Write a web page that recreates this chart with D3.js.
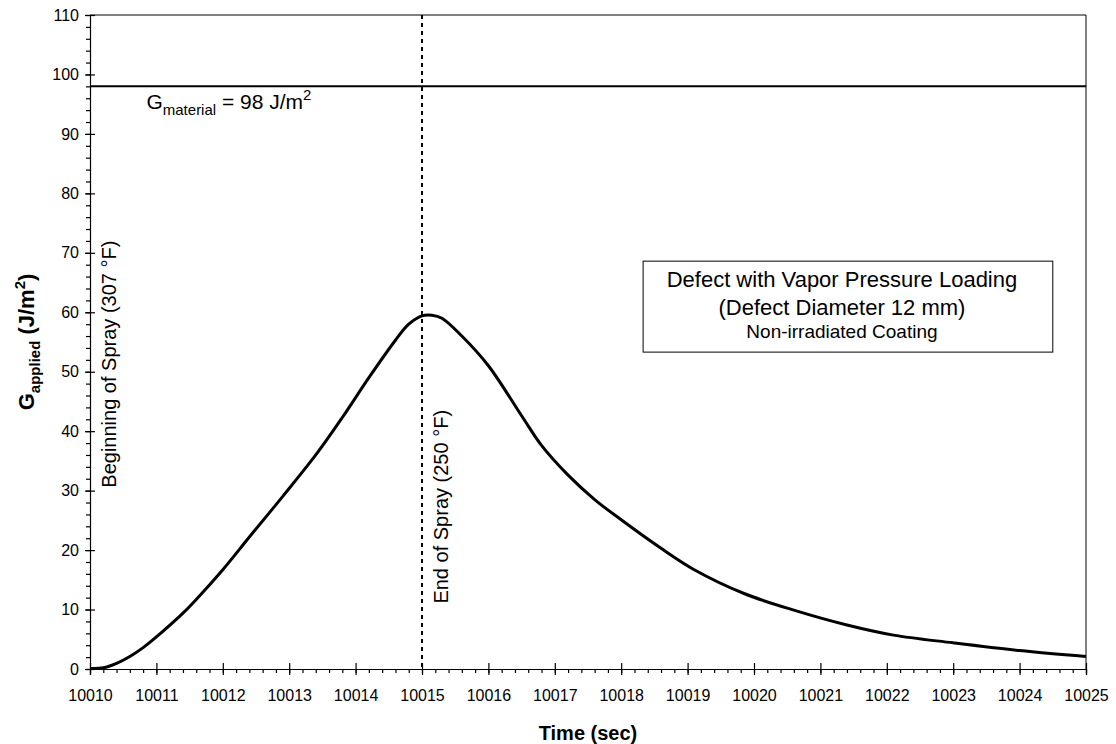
<!DOCTYPE html>
<html>
<head>
<meta charset="utf-8">
<script src="https://cdn.jsdelivr.net/npm/d3@7"></script>
<style>
  body { margin: 0; background: #fff; }
  text { font-family: Arial, "Liberation Sans", Helvetica, sans-serif; fill: #000; }
</style>
</head>
<body>
<script>
// time (sec) and G applied (J/m2)
var times = [10010, 10010.2, 10010.4, 10010.6, 10010.8, 10011, 10011.4, 10011.6, 10012, 10012.4, 10012.9,
             10013.4, 10013.8, 10014.2, 10014.6, 10014.8, 10015, 10015.15, 10015.3, 10015.6, 10016, 10016.5, 10016.8,
             10017.2, 10017.6, 10018, 10018.6, 10019.1, 10019.85, 10020.6, 10021.4, 10022.1, 10023, 10024, 10025];
var gApplied = [0.1, 0.2, 0.95, 2.1, 3.6, 5.4, 9.4, 11.7, 16.7, 22.2, 29.0,
                36.0, 42.3, 49.0, 55.3, 58.0, 59.4, 59.5, 59.0, 56.0, 51.0, 42.6, 37.6,
                32.6, 28.5, 25.1, 20.3, 16.7, 12.7, 9.9, 7.4, 5.7, 4.4, 3.1, 2.1];

var xTicks = d3.range(10010, 10026, 1);
var yTicks = d3.range(0, 111, 10);
var gMaterial = 98;
var sprayStart = 10010, sprayEnd = 10015;
var boxLines = ["Defect with Vapor Pressure Loading", "(Defect Diameter 12 mm)", "Non-irradiated Coating"];

var W = 1116, H = 744,
    margin = {top: 15, right: 30, bottom: 75, left: 90},
    width = W - margin.left - margin.right,
    height = H - margin.top - margin.bottom;

var svg = d3.select("body").append("svg")
    .attr("width", W)
    .attr("height", H);

var g = svg.append("g")
    .attr("transform", "translate(" + margin.left + "," + margin.top + ")");

var x = d3.scaleLinear().domain([10010, 10025]).range([0, width]);
var y = d3.scaleLinear().domain([0, 110]).range([height, 0]);

// frame (top + right)
g.append("path")
    .attr("d", "M0,0H" + width + "V" + height)
    .attr("fill", "none")
    .attr("stroke", "#000")
    .attr("stroke-width", 1);

// minor ticks
g.append("g")
    .attr("transform", "translate(0," + height + ")")
    .call(d3.axisBottom(x).tickValues(d3.range(0, 76).map(function(i){ return 10010 + i * 0.2; }))
      .tickSize(4).tickFormat(""))
    .call(function(s){ s.select(".domain").remove(); });
g.append("g")
    .call(d3.axisLeft(y).tickValues(d3.range(0, 56).map(function(i){ return i * 2; }))
      .tickSize(4).tickFormat(""))
    .call(function(s){ s.select(".domain").remove(); });

// major axes
var xAxis = g.append("g")
    .attr("transform", "translate(0," + height + ")")
    .call(d3.axisBottom(x).tickValues(xTicks).tickSize(6).tickPadding(15).tickFormat(d3.format("d")));
xAxis.selectAll(".tick line").attr("y1", -6);

var yAxis = g.append("g")
    .call(d3.axisLeft(y).tickValues(yTicks).tickSize(5).tickPadding(6));
yAxis.selectAll(".tick line").attr("x1", 5);

svg.selectAll(".tick text").style("font-size", "16px").style("font-family", "Arial, 'Liberation Sans', sans-serif");
svg.selectAll(".domain, .tick line").attr("stroke", "#000").attr("stroke-width", 1.2);

// G material line
g.append("line")
    .attr("x1", 0).attr("x2", width)
    .attr("y1", y(gMaterial)).attr("y2", y(gMaterial))
    .attr("stroke", "#000")
    .attr("stroke-width", 2);

var gm = g.append("text")
    .attr("x", x(10010.85))
    .attr("y", y(gMaterial) + 23)
    .style("font-size", "21px");
gm.append("tspan").text("G");
gm.append("tspan").attr("dy", 6).style("font-size", "15px").text("material");
gm.append("tspan").attr("dy", -6).text(" = 98 J/m");
gm.append("tspan").attr("dy", -9).style("font-size", "15px").text("2");

// end of spray
g.append("line")
    .attr("x1", x(sprayEnd)).attr("x2", x(sprayEnd))
    .attr("y1", 0).attr("y2", height)
    .attr("stroke", "#000")
    .attr("stroke-width", 2)
    .attr("stroke-dasharray", "4,4");

g.append("text")
    .attr("transform", "translate(" + (x(sprayEnd) + 26) + "," + y(11) + ") rotate(-90)")
    .style("font-size", "20px")
    .text("End of Spray (250 \u00B0F)");

g.append("text")
    .attr("transform", "translate(" + (x(sprayStart) + 26) + "," + y(30.5) + ") rotate(-90)")
    .style("font-size", "20px")
    .text("Beginning of Spray (307 \u00B0F)");

// curve
var pts = times.map(function(t, i){ return [t, gApplied[i]]; });
g.append("path")
    .datum(pts)
    .attr("fill", "none")
    .attr("stroke", "#000")
    .attr("stroke-width", 3)
    .attr("stroke-linejoin", "round")
    .attr("d", d3.line()
      .x(function(d){ return x(d[0]); })
      .y(function(d){ return y(d[1]); })
      .curve(d3.curveCatmullRom.alpha(0.5)));

// note box
var bx0 = x(10018.33), bx1 = x(10024.5), by0 = y(68.6), by1 = y(53.3);
g.append("rect")
    .attr("x", bx0).attr("y", by0)
    .attr("width", bx1 - bx0).attr("height", by1 - by0)
    .attr("fill", "#fff")
    .attr("stroke", "#000")
    .attr("stroke-width", 1);

var boxY = [26, 54, 77];
g.selectAll(".boxline")
    .data(boxLines)
    .enter()
    .append("text")
    .attr("class", "boxline")
    .attr("x", (bx0 + bx1) / 2 - 6)
    .attr("y", function(d, i){ return by0 + boxY[i]; })
    .attr("text-anchor", "middle")
    .style("font-size", function(d, i){ return i < 2 ? "22px" : "19px"; })
    .text(function(d){ return d; });

// axis titles
svg.append("text")
    .attr("x", margin.left + width / 2)
    .attr("y", 740)
    .attr("text-anchor", "middle")
    .style("font-size", "20px")
    .style("font-weight", "bold")
    .text("Time (sec)");

var yl = svg.append("text")
    .attr("transform", "translate(34," + (margin.top + y(55)) + ") rotate(-90)")
    .attr("text-anchor", "middle")
    .style("font-size", "22px")
    .style("font-weight", "bold");
yl.append("tspan").text("G");
yl.append("tspan").attr("dy", 6).style("font-size", "15px").text("applied");
yl.append("tspan").attr("dy", -6).text(" (J/m");
yl.append("tspan").attr("dy", -9).style("font-size", "15px").text("2");
yl.append("tspan").attr("dy", 9).text(")");
</script>
</body>
</html>
